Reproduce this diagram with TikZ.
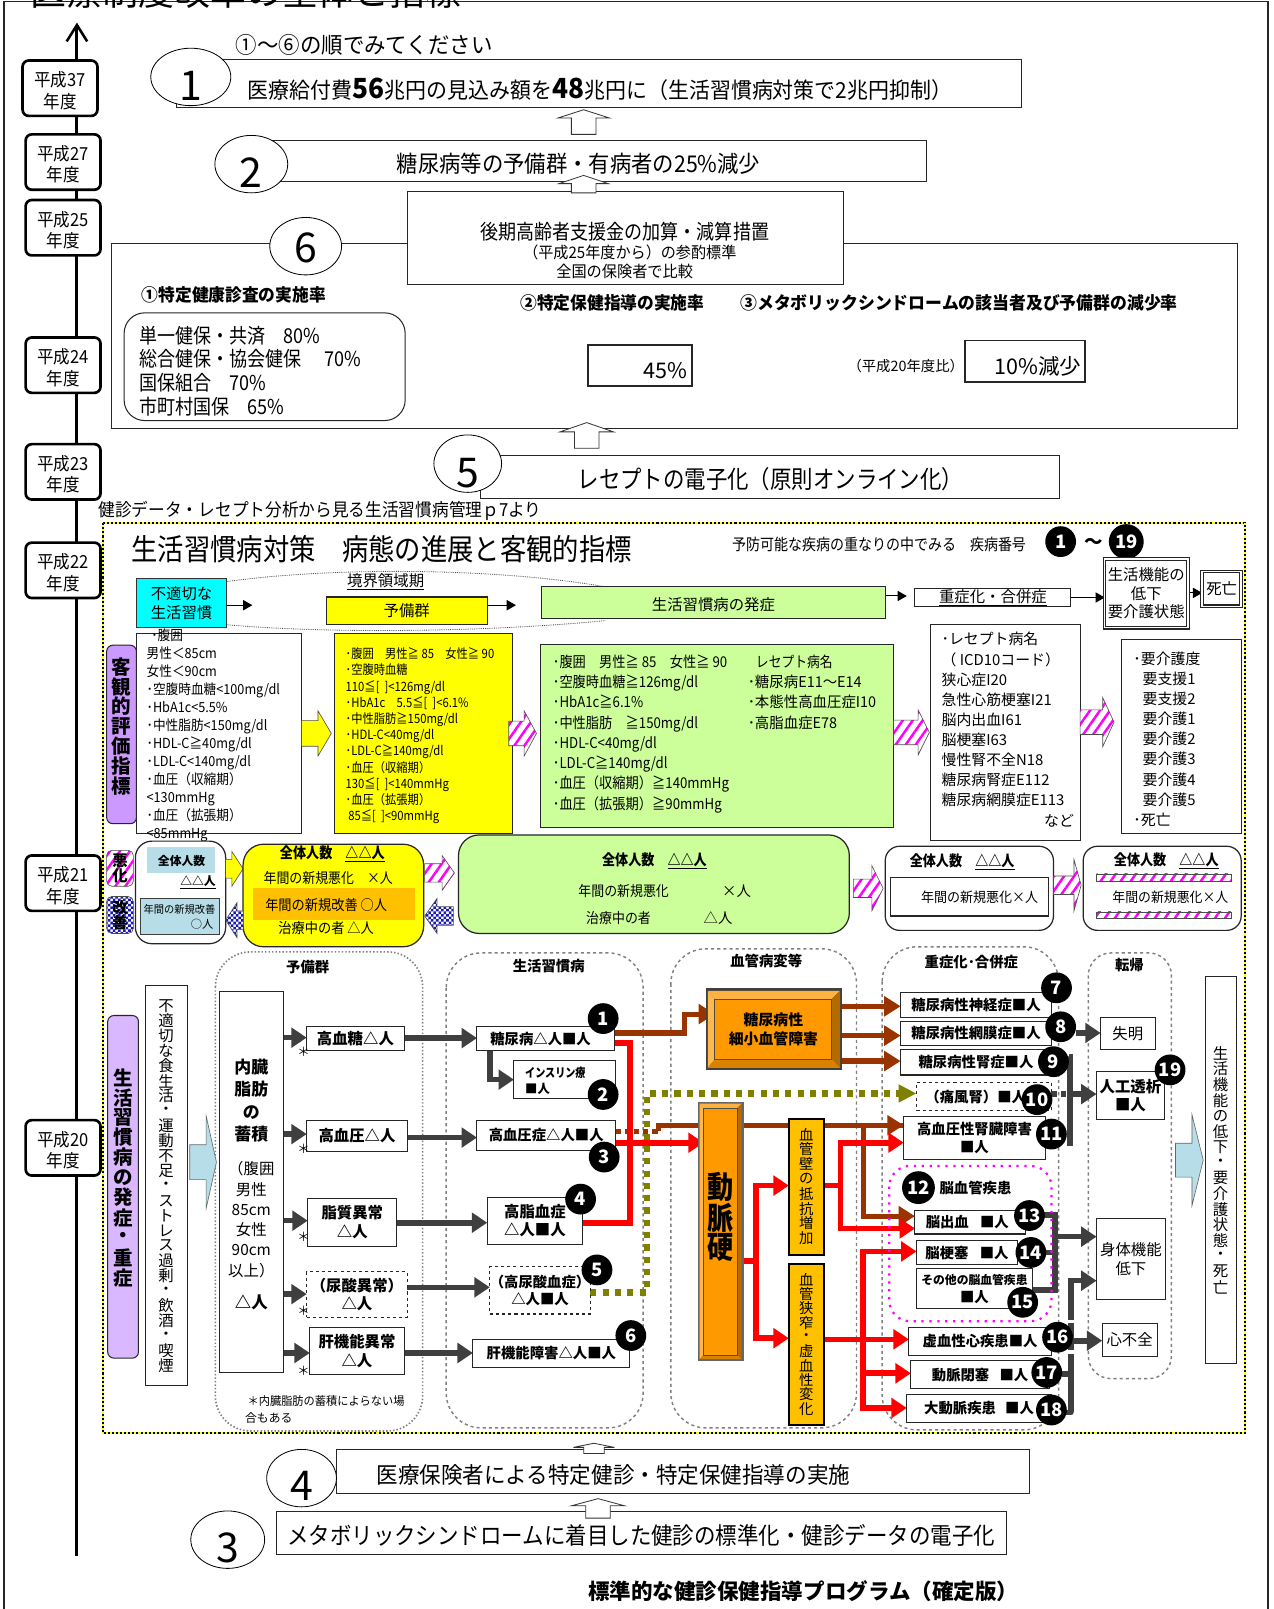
\documentclass[tikz,border=0pt]{standalone}
\usepackage{fontspec}
\setmainfont{Noto Sans CJK JP}
\usetikzlibrary{arrows.meta,shapes.geometric,patterns,patterns.meta,calc}
\definecolor{dk}{HTML}{3F3F3F}
\definecolor{brn}{HTML}{993300}
\definecolor{olv}{HTML}{808000}
\definecolor{grn}{HTML}{CCFF99}
\definecolor{purp}{HTML}{CC99FF}
\definecolor{lpurp}{HTML}{D9B8FF}
\definecolor{lblue}{HTML}{B7DEE8}
\definecolor{gold}{HTML}{FFC000}
\definecolor{org}{HTML}{FF9900}
\definecolor{grp}{HTML}{808080}
\definecolor{cyn}{HTML}{00FFFF}
\definecolor{mgt}{HTML}{FF00FF}
\definecolor{ylw}{HTML}{FFFF00}
\definecolor{navy}{HTML}{1A1AB0}
\pgfdeclarelayer{back}\pgfdeclarelayer{conn}\pgfsetlayers{back,conn,main}
\pgfdeclarepatternformonly{chk}{\pgfqpoint{-.1pt}{-.1pt}}{\pgfqpoint{5.1pt}{5.1pt}}{\pgfqpoint{5pt}{5pt}}{\pgfpathrectangle{\pgfqpoint{0pt}{0pt}}{\pgfqpoint{2.5pt}{2.5pt}}\pgfpathrectangle{\pgfqpoint{2.5pt}{2.5pt}}{\pgfqpoint{2.5pt}{2.5pt}}\pgfusepath{fill}}
\newcommand{\fz}[1]{\fontsize{#1}{#1}\selectfont}
\newcommand{\sq}[2]{\scalebox{#1}[1]{#2}}
\newcommand{\sql}[2]{\scalebox{#1}[1]{\begin{tabular}{@{}l@{}}#2\end{tabular}}}
\newcommand{\yrt}[2]{\scalebox{.92}[1]{\begin{tabular}{@{}c@{}}\rule{0pt}{24pt}#1\\#2\end{tabular}}}
\newcounter{tn}
\tikzset{
 bbox/.style={draw=black!85,line width=1pt,fill=white,inner sep=0pt,outer sep=0pt,align=center,text=black},
 yrbox/.style={bbox,rounded corners=6pt,line width=2.6pt,draw=black,font=\fontsize{17.5}{20.5}\selectfont},
 ell/.style={ellipse,draw=black,line width=.8pt,fill=white,inner sep=0pt,outer sep=0pt},
 numc/.style={circle,fill=black,text=white,inner sep=0pt,outer sep=0pt,minimum size=30pt,font=\fz{18}\bfseries},
 txt/.style={inner sep=0pt,outer sep=0pt,text=black,align=center},
 lst/.style={txt,align=left,anchor=north west},
 hatchM/.style={draw=black!70,line width=.6pt,preaction={fill=white},pattern={Lines[angle=55,distance=8pt,line width=2.4pt]},pattern color=mgt},
 hatchB/.style={draw=black!70,line width=.6pt,preaction={fill=white},pattern=chk,pattern color=navy},
 darr/.style={draw=dk,line width=5.5pt,-{Triangle[length=15pt,width=19pt]},line join=miter},
 darrn/.style={draw=dk,line width=5.5pt,line join=miter},
 rarr/.style={draw=red,line width=5.5pt,-{Triangle[length=15pt,width=19pt]},line join=miter},
 rarrn/.style={draw=red,line width=5.5pt,line join=miter},
 barr/.style={draw=brn,line width=5pt,-{Triangle[length=16pt,width=19pt]},line join=miter},
 barrn/.style={draw=brn,line width=5pt,line join=miter},
 thn/.style={draw=black,line width=1pt,-{Triangle[length=9pt,width=10pt]}},
 grpbox/.style={draw=grp,rounded corners=34pt,line width=1.4pt},
 upar/.style={draw=black!80,line width=.8pt,fill=white},
}
\newcommand{\bx}[7][]{%
 \pgfmathsetmacro\bxw{#5-#3}\pgfmathsetmacro\bxh{#6-#4}\pgfmathsetmacro\bxx{(#3+#5)/2}\pgfmathsetmacro\bxy{(#4+#6)/2}%
 \node[bbox,minimum width=\bxw pt,minimum height=\bxh pt,#1] (#2) at (\bxx,\bxy) {#7};}
\newcommand{\tx}[5][]{\stepcounter{tn}\node[txt,font=\fz{#4},#1] (t\arabic{tn}) at (#2,#3) {#5};}
\makeatletter
\newcommand{\vtx}[2]{\vbox{\offinterlineskip\@tfor\cc:=#2\do{\vbox to #1pt{\vss\hbox to 1em{\hss\cc\hss}\vss}}}}
\makeatother
\newcommand{\blockU}[6]{\draw[upar] (#1,#2)--(#1+#5,#3)--(#1+#6,#3)--(#1+#6,#4)--(#1-#6,#4)--(#1-#6,#3)--(#1-#5,#3)--cycle;}
\newcommand{\blockR}[7]{\draw[#1] (#2,#5-#6)--(#3,#5-#6)--(#3,#5-#7)--(#4,#5)--(#3,#5+#7)--(#3,#5+#6)--(#2,#5+#6)--cycle;}
\begin{document}
\begin{tikzpicture}[x=1pt,y=-1pt]
\useasboundingbox (0,0) rectangle (1242,1568.6);
% ---------- frame
\begin{pgfonlayer}{back}
\fill[white] (0,0) rectangle (1242,1568.6);
\draw[line width=1.6pt,draw=black!85] (4,1575)--(4,1.5)--(1236,1.5)--(1236,1575);
\end{pgfonlayer}
\tx{240}{-8}{35}{医療制度改革の全体と指標}
% ---------- timeline
\coordinate (tlB) at (75,1517);
\coordinate (tlT) at (75,22);
\begin{pgfonlayer}{conn}
\draw[line width=3pt,draw=black,-{Straight Barb[length=16pt,width=20pt,line width=2.5pt]}] (tlB)--(tlT);
\end{pgfonlayer}
\bx[yrbox]{y37}{22}{59}{95}{113}{\yrt{平成37}{年度}}
\bx[yrbox]{y27}{25}{131}{98}{185}{\yrt{平成27}{年度}}
\bx[yrbox]{y25}{25}{195}{98}{249}{\yrt{平成25}{年度}}
\bx[yrbox]{y24}{25}{329}{98}{383}{\yrt{平成24}{年度}}
\bx[yrbox]{y23}{25}{433}{98}{487}{\yrt{平成23}{年度}}
\bx[yrbox]{y22}{25}{529}{98}{583}{\yrt{平成22}{年度}}
\bx[yrbox]{y21}{25}{834}{98}{888}{\yrt{平成21}{年度}}
\bx[yrbox]{y20}{25}{1092}{98}{1146}{\yrt{平成20}{年度}}
% ---------- top stack
\tx{355}{44}{22}{\sq{.95}{①〜⑥の順でみてください}}
\bx{b1}{172}{58}{996}{105}{}
\node[ell,minimum width=78pt,minimum height=56pt] (e1) at (186,75) {};
\tx{186}{84}{40}{1}
\tx{585}{87}{21.5}{\sq{.95}{医療給付費{\bfseries\fz{27}56}兆円の見込み額を{\bfseries\fz{27}48}兆円に（生活習慣病対策で2兆円抑制）}}
\blockU{569}{107}{115}{131}{25}{12}
\bx{b2}{260}{137}{903}{177}{}
\node[ell,minimum width=71pt,minimum height=56pt] (e2) at (245,160) {};
\tx{245}{168}{40}{2}
\tx{564}{160}{22.5}{\sq{.925}{糖尿病等の予備群・有病者の25\%減少}}
\bx{b6}{109}{237}{1206}{418}{}
\bx{b6t}{397}{187}{822}{277}{}
\blockU{569}{171}{179}{188}{24}{12}
\tx{609}{226}{20}{\sq{.88}{後期高齢者支援金の加算・減算措置}}
\tx{614}{246}{15.5}{\sq{.95}{（平成25年度から）の参酌標準}}
\tx{609}{265}{15.5}{\sq{.955}{全国の保険者で比較}}
\node[ell,minimum width=70pt,minimum height=56pt] (e6) at (298,240) {};
\tx{298}{242}{40}{6}
\tx{228}{288}{17}{\sq{.96}{\bfseries ①特定健康診査の実施率}}
\bx[rounded corners=20pt]{rk}{121}{305}{395}{410}{}
\node[lst,font=\fontsize{20}{20.3}\selectfont] (rkt) at (136,318) {\sql{.88}{単一健保・共済　80\%\\総合健保・協会健保　 70\%\\国保組合　70\%\\市町村国保　65\%}};
\tx{597}{295}{17}{\sq{.96}{\bfseries ②特定保健指導の実施率}}
\tx{935}{295}{17}{\sq{.966}{\bfseries ③メタボリックシンドロームの該当者及び予備群の減少率}}
\bx[line width=1.8pt]{p45}{573}{336}{675}{376}{}
\tx{649}{361}{21}{45\%}
\tx{883}{357}{14}{（平成20年度比）}
\bx[line width=1.8pt]{p10}{941}{332}{1058}{372}{}
\tx{1012}{357}{21}{10\%減少}
\blockU{572}{412}{421}{437}{26}{12}
\bx{b5}{468}{444}{1033}{486}{}
\node[ell,minimum width=66pt,minimum height=56pt] (e5) at (456,452) {};
\begin{scope}
\clip (456,452) circle [x radius=33,y radius=28];
\tx{456}{461}{40}{5}
\end{scope}
\tx{745}{467}{24}{\hspace{12pt}\sq{.87}{レセプトの電子化（原則オンライン化）}}
\tx[anchor=west]{96}{498}{17.5}{\sq{.93}{健診データ・レセプト分析から見る生活習慣病管理ｐ7より}}
% ---------- dotted frame
\begin{pgfonlayer}{back}
\draw[black,line width=2pt,dash pattern=on 2pt off 2pt] (100,510) rectangle (1214,1397);
\draw[ylw,line width=2pt,dash pattern=on 2pt off 2pt,dash phase=2pt] (100,510) rectangle (1214,1397);
\draw[black!70,line width=.8pt,densely dotted] (221,567) .. controls (320,553) and (480,553) .. (590,572);
\draw[black!70,line width=.8pt,densely dotted] (221,609) .. controls (320,618) and (480,616) .. (590,605);
\end{pgfonlayer}
\tx{372}{535}{29}{\sq{.885}{生活習慣病対策　病態の進展と客観的指標}}
\tx{857}{531}{15.5}{\sq{.88}{予防可能な疾病の重なりの中でみる　疾病番号}}
\node[numc] (h1) at (1034,528) {1};
\tx{1066}{530}{18}{\bfseries 〜}
\node[numc,minimum size=34pt] (h19) at (1098,528) {19};
% ---------- stage row
\bx[fill=cyn,draw=black!80,font=\fz{15}]{s1}{133}{564}{221}{612}{不適切な\\[3pt]生活習慣}
\tx{376}{567}{15}{\underline{境界領域期}}
\bx[fill=ylw,font=\fz{15}]{s2}{318}{582}{475}{609}{予備群}
\bx[fill=grn,font=\fz{15}]{s3}{528}{572}{863}{603}{\rule{0pt}{17pt}生活習慣病の発症}
\bx[font=\fz{15}]{s4}{892}{574}{1044}{591}{\underline{重症化・合併症}}
\bx[double,double distance=1.4pt,font=\fz{15}]{s5}{1077}{545}{1158}{612}{生活機能の\\[3pt]低下\\[3pt]要介護状態}
\bx[double,double distance=1.4pt,font=\fz{15}]{s6}{1172}{557}{1210}{591}{死亡}
\coordinate (s1e) at (246,590);
\coordinate (s2e) at (503,590);
\coordinate (s3e) at (884,581);
\begin{pgfonlayer}{conn}
\draw[thn] (s1.east|-s1e)--(s1e);
\draw[thn] (s2.east|-s2e)--(s2e);
\draw[thn] (860,581)--(s3e);
\draw[thn] (s4.east)--(s5.west|-s4.east);
\draw[thn] (s5.east|-0,578)--(s6.west|-0,578);
\end{pgfonlayer}
% ---------- indicator row
\bx[fill=purp,rounded corners=6pt]{o0}{104}{629}{133}{803}{}
\tx{118.5}{708}{19}{\bfseries\vtx{19.3}{客観的評価指標}}
\bx{o1}{133}{618}{294}{813}{}
\node[lst,font=\fontsize{13.5}{17.55}\selectfont] (o1t) at (143,612) {\sql{.915}{\hspace*{5pt}･腹囲\\男性＜85cm\\女性＜90cm\\･空腹時血糖<100mg/dl\\･HbA1c<5.5\%\\･中性脂肪<150mg/dl\\･HDL-C≧40mg/dl\\･LDL-C<140mg/dl\\･血圧（収縮期）\\<130mmHg\\･血圧（拡張期）\\<85mmHg}};
\blockR{draw=black!70,line width=.6pt,fill=ylw}{294}{310}{323}{715}{12.5}{22}
\bx[fill=ylw]{o2}{326}{618}{500}{813}{}
\node[lst,font=\fontsize{12.5}{15.8}\selectfont] (o2t) at (337,631) {\sql{.88}{･腹囲　男性≧ 85　女性≧ 90\\･空腹時血糖\\110≦[ \ ]<126mg/dl\\･HbA1c　5.5≦[ \ ]<6.1\%\\･中性脂肪≧150mg/dl\\･HDL-C<40mg/dl\\･LDL-C≧140mg/dl\\･血圧（収縮期）\\130≦[ \ ]<140mmHg\\･血圧（拡張期）\\\hspace*{3pt}85≦[ \ ]<90mmHg}};
\blockR{hatchM}{496}{511}{523}{715}{12}{22}
\bx[fill=grn]{o3}{527}{628}{871}{807}{}
\node[lst,font=\fontsize{14.5}{19.7}\selectfont] (o3t) at (539,637) {\sql{.89}{･腹囲　男性≧ 85　女性≧ 90\\･空腹時血糖≧126mg/dl\\･HbA1c≧6.1\%\\･中性脂肪　≧150mg/dl\\･HDL-C<40mg/dl\\･LDL-C≧140mg/dl\\･血圧（収縮期）≧140mmHg\\･血圧（拡張期）≧90mmHg}};
\tx[anchor=west]{737}{645}{14.5}{\sq{.86}{レセプト病名}}
\node[lst,font=\fontsize{14.5}{20}\selectfont] (o3r) at (729,656) {\sql{.97}{･糖尿病E11〜E14\\･本態性高血圧症I10\\･高脂血症E78}};
\blockR{hatchM}{871}{895}{906}{714}{12}{22}
\bx{o4}{907}{609}{1053}{819}{}
\node[lst,font=\fontsize{14.5}{19.6}\selectfont] (o4t) at (918,615) {\sql{1}{･レセプト病名\\（ ICD10コード）\\狭心症I20\\急性心筋梗塞I21\\脳内出血I61\\脳梗塞I63\\慢性腎不全N18\\糖尿病腎症E112\\糖尿病網膜症E113}};
\tx[anchor=east]{1047}{800}{14.5}{など}
\blockR{hatchM}{1053}{1075}{1086}{704}{12}{24}
\bx{o5}{1093}{623}{1210}{813}{}
\node[lst,font=\fontsize{14.5}{19.6}\selectfont] (o5t) at (1105,634) {\sql{1}{･要介護度\\\hspace*{9pt}要支援1\\\hspace*{9pt}要支援2\\\hspace*{9pt}要介護1\\\hspace*{9pt}要介護2\\\hspace*{9pt}要介護3\\\hspace*{9pt}要介護4\\\hspace*{9pt}要介護5\\･死亡}};
% ---------- population row
\bx[hatchM,rounded corners=5pt,font=\fz{15}\bfseries]{p0a}{104}{829}{130}{864}{悪\\化}
\bx[hatchB,rounded corners=5pt,font=\fz{15}\bfseries]{p0b}{104}{874}{130}{910}{改\\善}
\bx[rounded corners=16pt,line width=1.2pt]{p1}{132}{820}{220}{920}{}
\bx[fill=lblue,draw=none]{p1a}{143}{826}{210}{851}{}
\tx{177}{839}{11.5}{\bfseries 全体人数}
\tx{193}{860}{11.5}{\bfseries\underline{△△人}}
\bx[fill=lblue,line width=1.2pt,draw=dk]{p1b}{137}{876}{214}{911}{}
\tx{175}{887}{10.5}{\sq{.95}{年間の新規改善}}
\tx{197}{901}{11}{○人}
\blockR{draw=black!70,line width=.6pt,fill=ylw}{220}{226}{237}{847}{9}{17}
\bx[fill=ylw,rounded corners=20pt,line width=1.2pt]{p2}{237}{823}{413}{923}{}
\bx[fill=gold,draw=none]{p2a}{247}{866}{405}{897}{}
\tx{324}{832}{14.5}{\sq{.88}{\bfseries 全体人数　\underline{△△人}}}
\tx{320}{856}{14}{\sq{.9}{年間の新規悪化　×人}}
\tx{318}{882}{14}{\sq{.92}{年間の新規改善 ○人}}
\tx{318}{905}{14}{\sq{.92}{治療中の者 △人}}
\blockR{hatchM}{414}{431}{443}{851}{9}{17}
\draw[hatchB] (237,897-9)--(231,897-9)--(231,897-17)--(220,897)--(231,897+17)--(231,897+9)--(237,897+9)--cycle;
\draw[hatchB] (442,893-9)--(426,893-9)--(426,893-17)--(414,893)--(426,893+17)--(426,893+9)--(442,893+9)--cycle;
\bx[fill=grn,rounded corners=20pt,line width=1.2pt]{p3}{447}{814}{828}{910}{}
\tx{638}{839}{14.5}{\sq{.88}{\bfseries 全体人数　\underline{△△人}}}
\tx{608}{869}{14}{\sq{.9}{年間の新規悪化}}
\tx{718}{869}{14}{×人}
\tx{603}{895}{14}{\sq{.9}{治療中の者}}
\tx{700}{895}{14}{△人}
\blockR{hatchM}{832}{850}{861}{866}{9}{22}
\bx[rounded corners=14pt,line width=1.2pt]{p4}{863}{825}{1027}{907}{}
\tx{938}{840}{14.5}{\sq{.88}{\bfseries 全体人数　\underline{△△人}}}
\bx{p4a}{868}{855}{1022}{893}{}
\tx{955}{875}{13.5}{\sq{.94}{年間の新規悪化×人}}
\blockR{hatchM}{1027}{1047}{1054}{863}{9}{25}
\bx[rounded corners=14pt,line width=1.2pt]{p5}{1056}{825}{1210}{907}{}
\tx{1137}{839}{14.5}{\sq{.88}{\bfseries 全体人数　\underline{△△人}}}
\bx[hatchM,line width=.5pt]{p5a}{1069}{852}{1200}{859}{}
\tx{1141}{875}{13.5}{\sq{.93}{年間の新規悪化×人}}
\bx[hatchM,line width=.5pt]{p5b}{1069}{889}{1200}{895}{}
% ---------- lower section groups
\begin{pgfonlayer}{back}
\draw[grpbox,dotted,line width=1.6pt] (210,928) rectangle (412,1395);
\draw[grpbox,dashed,line cap=butt] (435,929) rectangle (627,1392);
\draw[grpbox,dashed] (654,925) rectangle (835,1392);
\draw[grpbox,dashed] (860,923) rectangle (1032,1394);
\draw[grpbox,dashed,rounded corners=22pt] (1061,929) rectangle (1142,1344);
\end{pgfonlayer}
\tx{300}{943}{14}{\bfseries 予備群}
\tx{535}{942}{14}{\bfseries 生活習慣病}
\tx{747}{937}{14}{\bfseries 血管病変等}
\tx{947}{938}{14}{\bfseries 重症化･合併症}
\tx{1101}{941}{14}{\bfseries 転帰}
\bx[fill=lpurp,rounded corners=6pt]{l0}{105}{990}{135}{1324}{}
\tx{120}{1148}{19}{\bfseries\vtx{19.5}{生活習慣病の発症・重症}}
\bx{l1}{142}{961}{183}{1351}{}
\tx{162}{1156}{15}{\vtx{14.6}{不適切な食生活・運動不足・ストレス過剰・飲酒・喫煙}}
\blockR{draw=black!60,line width=.6pt,fill=lblue}{185}{201}{211}{1133}{17}{45}
\bx{v0}{214}{967}{276}{1338}{}
\node[txt,font=\fontsize{16.5}{21.7}\bfseries\selectfont] (v0a) at (245,1073) {内臓\\脂肪\\の\\蓄積};
\node[txt,font=\fontsize{15}{19.7}\selectfont] (v0t) at (245,1189) {（腹囲\\男性\\85cm\\女性\\90cm\\以上）};
\tx{245}{1270}{16}{\bfseries △人}
% pre-disease
\bx[font=\fz{15}\bfseries]{a1}{299}{1001}{394}{1024}{高血糖△人}
\bx[font=\fz{15}\bfseries]{a2}{299}{1092}{397}{1123}{高血圧△人}
\bx[font=\fz{15}\bfseries]{a3}{300}{1168}{387}{1215}{脂質異常\\[3pt]△人}
\bx[dashed,font=\fz{15}\bfseries]{a4}{299}{1240}{397}{1284}{（尿酸異常）\\[3pt]△人}
\bx[font=\fz{15}\bfseries]{a5}{302}{1294}{394}{1340}{肝機能異常\\[3pt]△人}
\foreach \yy in {1025,1120,1206,1278,1336}{\node[txt,font=\fz{12}] (ast\yy) at (296,\yy) {＊};}
\node[lst,font=\fontsize{11.5}{16.5}\selectfont] (note) at (239,1361) {\sq{.95}{ ＊内臓脂肪の蓄積によらない場}\\合もある};
% disease
\bx[font=\fz{14}\bfseries]{c1}{465}{1001}{599}{1024}{糖尿病△人■人\hspace{10pt}}
\bx{c1b}{501}{1034}{600}{1071}{}
\tx[anchor=west]{512}{1046}{12}{\sq{.82}{\bfseries インスリン療}}
\tx[anchor=west]{512}{1062}{12}{\bfseries ■人}
\bx[font=\fz{14}\bfseries]{c2}{465}{1092}{600}{1122}{高血圧症△人■人}
\bx[font=\fz{15}\bfseries]{c3}{475}{1167}{568}{1213}{高脂血症\\[3pt]△人■人}
\bx[dashed,font=\fz{14}\bfseries]{c4}{478}{1235}{575}{1281}{（高尿酸血症）\\[3pt]△人■人}
\bx[font=\fz{14}\bfseries]{c5}{461}{1306}{614}{1333}{肝機能障害△人■人}
\node[numc] (n1) at (588,993) {1};
\node[numc] (n2) at (588,1067) {2};
\node[numc] (n3) at (589,1128) {3};
\node[numc] (n4) at (566,1169) {4};
\node[numc] (n5) at (582,1238) {5};
\node[numc] (n6) at (615,1302) {6};
% vascular
\fill[black!75] (688,963.5) rectangle (821,1043);
\fill[org!75!white] (690,966)--(819,966)--(811,974)--(697,974)--cycle;
\fill[org!70!white] (690,966)--(697,974)--(697,1032.5)--(690,1041)--cycle;
\fill[org!70!black] (819,966)--(811,974)--(811,1032.5)--(819,1041)--cycle;
\fill[org!85!black] (690,1041)--(697,1032.5)--(811,1032.5)--(819,1041)--cycle;
\bx[fill=org,draw=black!70,font=\fz{14.5}\bfseries]{m1}{697}{974}{811}{1032.5}{糖尿病性\\[4pt]細小血管障害}
\fill[black!60] (680,1074) rectangle (725,1327);
\fill[org!75!white] (682,1076)--(723,1076)--(718.6,1080.5)--(686,1080.5)--cycle;
\fill[org!70!white] (682,1076)--(686,1080.5)--(686,1321)--(682,1325)--cycle;
\fill[org!70!black] (723,1076)--(718.6,1080.5)--(718.6,1321)--(723,1325)--cycle;
\fill[org!85!black] (682,1325)--(686,1321)--(718.6,1321)--(723,1325)--cycle;
\bx[fill=org,draw=black!70]{m2}{686}{1080.5}{718.6}{1321}{}
\tx{702.5}{1187}{30}{\sq{.85}{\bfseries\vtx{29.5}{動脈硬}}}
\bx[fill=gold,line width=1.8pt,draw=black]{m3}{769}{1091}{803}{1223.7}{}
\tx{786}{1156.5}{14}{\vtx{14.5}{血管壁の抵抗増加}}
\bx[fill=gold,line width=1.8pt,draw=black]{m4}{769}{1232}{803}{1389}{}
\tx{786}{1310.5}{14}{\vtx{14}{血管狭窄・虚血性変化}}
% severe
\bx[font=\fz{14}\bfseries]{d7}{878}{967.6}{1025}{991.6}{糖尿病性神経症■人}
\bx[font=\fz{14}\bfseries]{d8}{878}{995.4}{1025}{1019.7}{糖尿病性網膜症■人}
\bx[font=\fz{14}\bfseries]{d9}{878}{1023.6}{1025}{1048}{糖尿病性腎症■人}
\bx[dashed,font=\fz{14}\bfseries]{d10}{893.5}{1055}{1025}{1083}{（痛風腎）■人\hspace{16pt}}
\bx[font=\fz{14}\bfseries]{d11}{881}{1088.6}{1019}{1130}{高血圧性腎臓障害\\[3pt]■人}
\draw[mgt,line width=2.2pt,dash pattern=on 2.2pt off 5.5pt,rounded corners=20pt] (867,1136.7) rectangle (1025,1288);
\node[numc,minimum size=32pt] (n12) at (895.4,1157.8) {12};
\tx{951}{1158}{14}{\bfseries 脳血管疾患}
\bx[font=\fz{14}\bfseries]{d13}{892}{1180}{1000}{1203}{脳出血\hspace{11pt}■人\hspace{6pt}}
\bx[font=\fz{14}\bfseries]{d14}{893.5}{1209.5}{992}{1233}{脳梗塞\hspace{11pt}■人}
\bx[font=\fz{11.5}\bfseries]{d15}{893.5}{1237}{1006.5}{1276}{その他の脳血管疾患\\[4pt]\fz{14}■人}
\bx[font=\fz{14}\bfseries]{d16}{886}{1294}{1025}{1321}{虚血性心疾患■人}
\bx[font=\fz{14}\bfseries]{d17}{888}{1326.5}{1023}{1354}{動脈閉塞\hspace{10pt}■人}
\bx[font=\fz{14}\bfseries]{d18}{884}{1359}{1025}{1387}{大動脈疾患\hspace{9pt}■人}
\node[numc] (n7) at (1030,963) {7};
\node[numc] (n8) at (1034,1001) {8};
\node[numc] (n9) at (1027,1035) {9};
\node[numc] (n10) at (1011,1072) {10};
\node[numc] (n11) at (1025,1105.6) {11};
\node[numc] (n13) at (1003.6,1185) {13};
\node[numc] (n14) at (1005,1221) {14};
\node[numc] (n15) at (997,1269.6) {15};
\node[numc] (n16) at (1031,1303.6) {16};
\node[numc] (n17) at (1020.5,1338) {17};
\node[numc] (n18) at (1025,1374.6) {18};
% outcomes
\bx[font=\fz{15}]{e1b}{1073}{992}{1126}{1022.7}{失明}
\bx[font=\fz{15}\bfseries]{e2b}{1069}{1044.8}{1135}{1091}{人工透析\\[3pt]■人}
\bx[font=\fz{15}]{e3b}{1069}{1187.6}{1136}{1267}{身体機能\\[4pt]低下}
\bx[font=\fz{15}]{e4b}{1074.5}{1290}{1128}{1322}{心不全}
\node[numc] (n19) at (1140.7,1043) {19};
\blockR{draw=black!60,line width=.6pt,fill=lblue}{1146}{1162}{1173}{1131}{16.5}{44.5}
\bx{e5b}{1175}{952}{1205}{1329}{}
\tx{1190}{1141}{15}{\vtx{15.2}{生活機能の低下・要介護状態・死亡}}
% ---------- connectors of lower section
\begin{pgfonlayer}{conn}
\foreach \na/\yy in {a1/1011.6,a2/1105.6,a3/1190,a4/1261.6,a5/1319}{\draw[darr] (v0.east|-0,\yy)--(\na.west|-0,\yy);}
\foreach \na/\nb/\yy in {a1/c1/1012,a2/c2/1109,a3/c3/1192,a4/c4/1255,a5/c5/1319}{\draw[darr] (\na.east|-0,\yy)--(\nb.west|-0,\yy);}
\draw[darr] ([xshift=13pt]c1.south west)|-(c1b.west);
% olive
\draw[draw=olv,line width=6pt,dash pattern=on 6pt off 6pt] (c4.east|-0,1260)--(630.6,1260)--(630.6,1066)--(876,1066);
\fill[olv] (876,1057)--(893,1066)--(876,1075)--cycle;
% brown
\draw[barrn,dash pattern=on 5pt off 4pt] (c2.east|-0,1103)--(645,1103);
\draw[barrn] (642,1103)--(642,1097)--(d11.west|-0,1097);
\draw[barr] (c2.east|-0,1097)++(42,0)--(d11.west|-0,1097);
\draw[barr] (841.6,1097)--(841.6,1185.6)--(d13.west|-0,1185.6);
\draw[barr] (c1.east|-0,1007)--(667,1007)--(667,988.6)--(m1.west|-0,988.6);
\draw[barr] (m1.east|-0,981)--(d7.west|-0,981);
\draw[barr] (m1.east|-0,1009.6)--(d8.west|-0,1009.6);
\draw[barr] (m1.east|-0,1034.4)--(d9.west|-0,1034.4);
% red
\draw[rarrn] (c1.east|-0,1017)--(614,1017)--(614,1192)--(c3.east|-0,1192);
\draw[rarr] (c2.east|-0,1114)--(m2.west|-0,1114);
\draw[rarrn] (m2.east|-0,1229.4)--(737,1229.4);
\draw[rarr] (737,1229.4)--(737,1155.8)--(m3.west|-0,1155.8);
\draw[rarr] (737,1229.4)--(737,1304.6)--(m4.west|-0,1304.6);
\draw[rarrn] (m3.east|-0,1155.7)--(819.5,1155.7);
\draw[rarr] (819.5,1155.7)--(819.5,1114)--(d11.west|-0,1114);
\draw[rarr] (819.5,1155.7)--(819.5,1197.6)--(d13.west|-0,1197.6);
\draw[rarr] (m4.east|-0,1305.7)--(d16.west|-0,1305.7);
\draw[rarr] (841.6,1305.7)--(841.6,1220)--(d14.west|-0,1220);
\draw[rarr] (841.6,1305.7)--(841.6,1338.8)--(d17.west|-0,1338.8);
\draw[rarr] (841.6,1305.7)--(841.6,1372.6)--(d18.west|-0,1372.6);
% dark right side
\draw[darr] (n8.east|-0,1007)--(e1b.west|-0,1007);
\draw[darrn] (n9.east|-0,1030)--(1043,1030)--(1043,1114)--(n11.east|-0,1114);
\draw[darrn,dash pattern=on 5pt off 4pt] (d10.east|-0,1066.6)--(1043,1066.6);
\draw[darr] (1043,1066.6)--(e2b.west|-0,1066.6);
\draw[darrn] (d13.east|-0,1184.7)--(1028.5,1184.7)--(1028.5,1257.6)--(d15.east|-0,1257.6);
\draw[darrn] (d14.east|-0,1221)--(1028.5,1221);
\draw[darr] (1028.5,1205.6)--(e3b.west|-0,1205.6);
\draw[darr] (1044,1377)--(1044,1248.5)--(e3b.west|-0,1248.5);
\draw[white,line width=7pt] (1044,1286.7)--(1044,1290);
\draw[white,line width=7pt] (1044,1316)--(1044,1320);
\draw[darr] (n16.east|-0,1307)--(e4b.west|-0,1307);
\draw[darrn] (n17.east|-0,1339.6)--(1044,1339.6);
\draw[darrn,line cap=round] (n18.east|-0,1377)--(1044,1377);
\end{pgfonlayer}
% footer
\bx{f4}{328}{1413}{1004}{1456}{}
\node[ell,minimum width=68pt,minimum height=56pt] (e4) at (294,1441) {};
\tx{294}{1449}{40}{4}
\tx{598}{1438}{22}{\sq{.955}{医療保険者による特定健診・特定保健指導の実施}}
\blockU{579}{1407}{1411}{1417}{20}{10}
\bx{f3}{270}{1474}{981}{1515}{}
\node[ell,minimum width=72pt,minimum height=56pt] (e3) at (222,1501) {};
\tx{222}{1509}{40}{3}
\tx{625}{1497}{23}{\sq{.91}{メタボリックシンドロームに着目した健診の標準化・健診データの電子化}}
\blockU{583}{1461}{1468}{1480}{26}{12}
\tx{783}{1551}{21}{\bfseries 標準的な健診保健指導プログラム（確定版）}
\end{tikzpicture}
\end{document}
